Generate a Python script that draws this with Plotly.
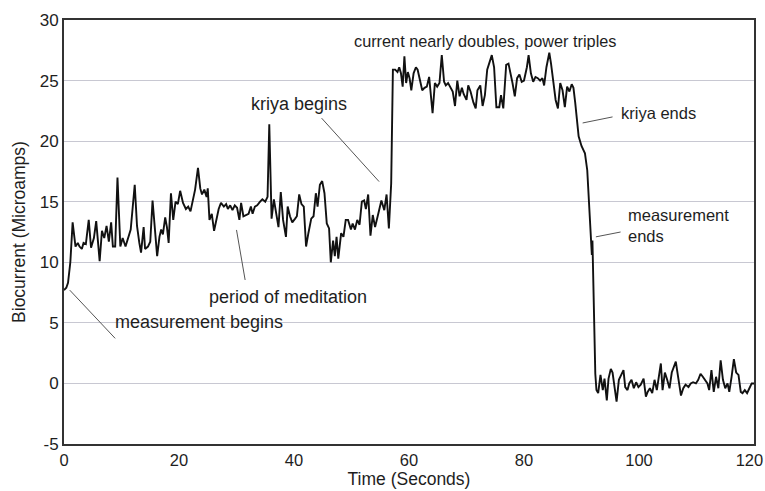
import plotly.graph_objects as go

# ---- data ----
time_s = [
    0, 0.4, 0.7, 1.1, 1.5, 2.0, 2.4, 2.7, 3.1, 3.4, 3.8, 4.3, 4.7, 5.2, 5.6, 6.2, 6.6, 7.0, 7.4, 7.8,
    8.2, 8.5, 8.9, 9.3, 9.8, 10.2, 10.7, 11.2, 11.6, 12.3, 12.7, 13.1, 13.4, 13.85, 14.1, 14.6, 15.0,
    15.4, 15.9, 16.2, 16.6, 16.9, 17.2, 17.6, 17.9, 18.2, 18.6, 19.0, 19.4, 19.8, 20.2, 20.7, 21.2,
    21.6, 22.0, 22.4, 22.8, 23.3, 23.7, 24.0, 24.4, 24.8, 25.0, 25.3, 25.7, 26.1, 26.5, 26.9, 27.3,
    27.8, 28.2, 28.5, 28.9, 29.3, 29.7, 30.1, 30.5,
    30.8, 31.2, 31.6, 32.1, 32.5, 32.8, 33.2, 33.6, 34.1, 34.5, 35.0, 35.4, 35.7, 36.1, 36.5, 36.9,
    37.3, 37.7, 38.1, 38.6, 38.9, 39.3, 39.7, 40.2, 40.5, 40.9, 41.3, 41.7, 42.1, 42.5, 43.0, 43.4,
    43.8, 44.1, 44.5, 44.9, 45.3, 45.7, 46.1, 46.4, 46.8, 47.1, 47.4, 47.7, 48.2, 48.6, 49.0, 49.4,
    49.9, 50.2, 50.6, 51.0, 51.4, 51.8, 52.2, 52.5, 52.9, 53.3, 53.7, 54.1, 54.5, 54.8, 55.2, 55.7,
    56.1, 56.5, 56.9,
    57.2, 57.6, 58.0, 58.3, 58.6, 58.9, 59.2, 59.5, 59.8, 60.1, 60.4, 60.8, 61.2, 61.5, 61.9, 62.3,
    62.7, 63.1, 63.5, 64.1, 64.5, 64.9, 65.3, 65.7, 66.1, 66.4, 66.8, 67.2, 67.6, 68.0, 68.4, 68.8,
    69.2, 69.5, 70.0, 70.3, 70.7, 71.2, 71.6, 71.9, 72.4, 72.8, 73.2, 73.6, 74.1, 74.4, 74.8, 75.2,
    75.7, 76.0, 76.4, 76.9, 77.3, 77.7, 78.0, 78.4, 78.8, 79.2, 79.6, 80.0, 80.5, 80.8, 81.2, 81.6,
    82.0, 82.4, 82.8, 83.2, 83.5, 83.9, 84.4, 84.7, 85.1, 85.5, 85.9, 86.3, 86.7, 87.1, 87.5, 87.9,
    88.3, 88.6, 88.9, 89.2, 89.5, 90.0, 90.6, 91.0, 91.3, 91.5, 91.7, 91.8, 91.9, 92.1, 92.4,
    92.6, 92.9, 93.3, 93.7, 94.0, 94.4, 94.7, 95.1, 95.4, 95.7, 96.1, 96.5, 96.9, 97.3, 97.6, 98.0,
    98.3, 98.7, 99.1, 99.5, 99.9, 100.3, 100.8, 101.2, 101.5, 101.9, 102.3, 102.7, 103.1, 103.5,
    103.8, 104.1, 104.5, 104.9, 105.3, 105.7, 106.1, 106.4, 106.8, 107.3, 107.7, 108.1, 108.6,
    109.0, 109.4, 109.9, 110.3, 110.7, 111.1, 111.5, 111.9, 112.2, 112.6, 113.0, 113.4, 113.8,
    114.2, 114.6, 115.0, 115.4, 115.7, 116.1, 116.5, 116.9, 117.3, 117.7, 118.0, 118.4, 118.8,
    119.2, 119.6, 120.0,
]
biocurrent = [
    7.7, 7.9, 8.3, 10.0, 13.3, 11.3, 11.6, 11.3, 11.1, 11.6, 11.5, 13.5, 11.2, 12.0, 13.4, 10.1, 12.6, 12.0, 13.0, 11.7,
    13.3, 11.3, 11.3, 17.0, 11.3, 12.0, 11.3, 12.2, 12.7, 16.4, 13.0, 11.6, 10.8, 12.9, 11.1, 11.3, 11.7,
    15.1, 12.2, 10.5, 12.1, 12.7, 12.3, 13.7, 12.9, 11.6, 15.7, 13.5, 15.0, 14.8, 15.9, 14.9, 14.4,
    14.6, 14.2, 15.2, 16.0, 17.8, 16.1, 15.6, 16.0, 15.4, 16.1, 13.5, 14.0, 12.6, 13.5, 14.4, 14.9,
    14.6, 14.8, 14.4, 14.7, 14.3, 14.7, 14.5, 13.5,
    14.9, 13.8, 13.9, 14.0, 14.6, 14.0, 14.6, 14.7, 15.0, 15.2, 15.0, 15.4, 21.4, 13.6, 15.2, 14.0,
    12.9, 15.8, 13.5, 12.1, 14.6, 13.8, 13.3, 13.6, 13.8, 15.6, 14.8, 14.6, 11.3, 12.4, 13.6, 13.8,
    15.7, 14.6, 16.4, 16.7, 15.7, 13.2, 12.8, 10.0, 11.8, 10.5, 12.1, 10.3, 12.4, 12.1, 13.5, 13.5,
    12.7, 13.2, 12.7, 13.5, 13.1, 15.0, 15.1, 14.4, 15.6, 12.2, 13.9, 12.9, 13.6, 14.3, 15.1, 14.3,
    15.6, 12.8, 16.5,
    25.9, 25.9, 25.7, 26.1, 25.6, 24.5, 27.0, 24.8, 25.7, 25.2, 24.2, 25.6, 26.1, 25.9, 24.9, 24.2,
    24.4, 24.5, 25.3, 22.3, 24.8, 24.5, 24.8, 27.1, 24.9, 24.6, 24.8, 24.5, 24.1, 22.9, 25.0, 23.7,
    24.4, 23.9, 23.4, 24.6, 24.1, 23.2, 22.7, 24.2, 24.6, 22.9, 23.8, 25.9, 26.7, 27.1, 26.1, 22.8,
    22.8, 23.8, 22.7, 26.3, 26.4, 25.6, 24.8, 23.7, 25.2, 25.5, 24.9, 25.0, 26.1, 27.1, 25.6, 24.9,
    25.3, 25.2, 25.0, 25.2, 24.6, 26.1, 27.3, 26.4, 24.9, 23.4, 22.7, 24.8, 24.2, 22.8, 24.5, 24.1,
    24.7, 24.4, 23.2, 21.8, 20.4, 19.6, 19.0, 17.6, 15.0, 12.5, 11.0, 10.6, 11.8, 7.5, 0.8,
    -0.55, -0.8, 0.7, -0.55, 0.4, -1.4, 0.4, 1.2, 0.9, 0.0, -1.5, 0.3, 0.7, 1.1, -0.3, -0.55,
    0.0, 0.3, -0.4, 0.1, -0.3, -0.1, 0.4, -1.1, -0.7, -0.4, -0.8, 0.3, -0.55, 0.8,
    1.65, -0.55, 0.9, 0.3, -0.4, 0.9, 1.4, 1.8, 0.55, -1.0, -0.4, -0.1, -0.3,
    0.0, 0.1, 0.0, 0.3, 0.8, 0.55, 0.3, 0.0, -0.55, 1.1, -0.7, 0.55, -0.4,
    1.9, 0.3, -0.4, 0.0, -0.7, 0.55, 2.0, 0.9, 0.7, -0.7, -0.8, -0.55, -0.8,
    -0.4, 0.0, 0.0,
]

x_ticks = [0, 20, 40, 60, 80, 100, 120]
# trailing no-break spaces nudge the last label left so it stays inside the page
x_tick_labels = ["0", "20", "40", "60", "80", "100", "120\u00a0\u00a0"]
y_ticks = [-5, 0, 5, 10, 15, 20, 25, 30]
y_tick_labels = ["-5", "0", "5", "10", "15", "20", "25", "30"]

# annotation texts with anchor (data coords) and font size
notes = [
    ("measurement begins", 8.6, 5.05, 18),
    ("period of meditation", 24.9, 7.15, 18),
    ("kriya begins", 32.2, 23.1, 18),
    ("current nearly doubles, power triples", 50.1, 28.3, 16.3),
    ("kriya ends", 96.5, 22.3, 16.5),
    ("measurement<br>ends", 97.7, 13.0, 16.5),
]
leaders = [
    (1.0, 7.7, 8.9, 3.72),
    (30.0, 12.67, 31.5, 8.54),
    (44.8, 21.9, 54.8, 16.66),
    (90.2, 21.5, 95.4, 22.0),
    (92.5, 12.1, 96.8, 12.5),
]

FONT = "Liberation Sans, Arial, Helvetica, sans-serif"
TXT = "#1e1e1e"

fig = go.Figure()
fig.add_trace(go.Scatter(
    x=time_s, y=biocurrent, mode="lines",
    line=dict(color="#111111", width=1.9),
    hoverinfo="x+y", showlegend=False,
))

for text, tx, ty, fs in notes:
    fig.add_annotation(
        x=tx, y=ty, xref="x", yref="y", text=text, showarrow=False,
        xanchor="left", yanchor="middle", align="left",
        font=dict(family=FONT, size=fs, color=TXT),
    )

for x0, y0, x1, y1 in leaders:
    fig.add_shape(type="line", xref="x", yref="y", x0=x0, y0=y0, x1=x1, y1=y1,
                  line=dict(color="#555555", width=1))

fig.update_layout(
    width=765, height=491,
    margin=dict(l=64, r=11, t=20, b=47),
    paper_bgcolor="#ffffff",
    plot_bgcolor="#ffffff",
    font=dict(family=FONT, color=TXT, size=16),
    xaxis=dict(
        range=[0, 120], tickvals=x_ticks, ticktext=x_tick_labels, automargin=False,
        ticklabeloverflow="allow",
        showgrid=False, zeroline=False,
        showline=True, mirror=True, linecolor="#333333", linewidth=2,
        ticks="", tickfont=dict(size=16.5, color=TXT),
        title=dict(text="Time (Seconds)", font=dict(size=17.5, color=TXT), standoff=2),
    ),
    yaxis=dict(
        range=[-5, 30], tickvals=y_ticks, ticktext=y_tick_labels, automargin=False,
        showgrid=True, gridcolor="#c8c8d2", gridwidth=1, zeroline=False,
        showline=True, mirror=True, linecolor="#333333", linewidth=2,
        ticks="", tickfont=dict(size=17, color=TXT),
        title=dict(text="Biocurrent (Microamps)", font=dict(size=17.5, color=TXT), standoff=10),
    ),
)

# remove the default 8px page margin so the 765x491 figure fills the window exactly
fig.write_html(
    "out.html",
    config={"displayModeBar": False},
    post_script="document.body.style.margin='0';document.body.style.overflow='hidden';",
)
